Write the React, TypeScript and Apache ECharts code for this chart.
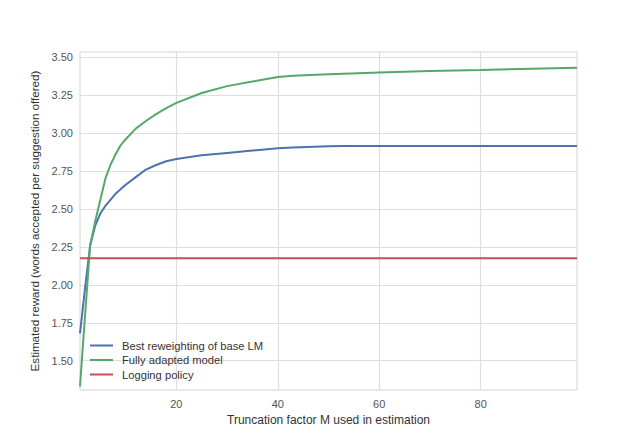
import React, { useEffect, useRef } from "react";
import * as echarts from "echarts";

const mValues = [1, 2, 3, 4, 5, 6, 7, 8, 9, 10, 12, 14, 16, 18, 20, 25, 30, 35, 40, 43, 50, 53, 60, 70, 80, 90, 99];
const bestReweighting = [1.68, 1.98, 2.26, 2.39, 2.47, 2.52, 2.56, 2.60, 2.63, 2.66, 2.71, 2.76, 2.79, 2.815, 2.83, 2.855, 2.87, 2.885, 2.9, 2.905, 2.913, 2.915, 2.915, 2.915, 2.915, 2.915, 2.915];
const fullyAdapted = [1.33, 1.8, 2.26, 2.42, 2.56, 2.7, 2.79, 2.86, 2.92, 2.96, 3.03, 3.08, 3.125, 3.165, 3.2, 3.265, 3.31, 3.34, 3.37, 3.378, 3.388, 3.392, 3.4, 3.41, 3.417, 3.425, 3.432];
const loggingPolicy = 2.175;
const yTicks = [1.5, 1.75, 2.0, 2.25, 2.5, 2.75, 3.0, 3.25, 3.5];
const xTicks = [20, 40, 60, 80];
const seriesNames = ["Best reweighting of base LM", "Fully adapted model", "Logging policy"];

export default function App() {
  const ref = useRef<HTMLDivElement>(null);
  useEffect(() => {
    if (!ref.current) return;
    const chart = echarts.init(ref.current, null, { renderer: "svg" });
    const font = "'Liberation Sans', Arial, sans-serif";
    chart.setOption({
      animation: false,
      backgroundColor: "#ffffff",
      textStyle: { fontFamily: font },
      grid: {
        left: 80,
        right: 65,
        top: 52,
        bottom: 52,
        show: true,
        borderColor: "#d4d4d4",
        borderWidth: 1,
        backgroundColor: "transparent",
      },
      legend: {
        orient: "vertical",
        left: 85,
        top: 335,
        itemWidth: 23,
        itemHeight: 12,
        itemGap: 3.5,
        icon: "path://M0,5 L23,5 L23,7 L0,7 Z",
        textStyle: { fontFamily: font, fontSize: 11.2, color: "#333333", padding: [0, 0, 0, 4] },
        data: seriesNames,
      },
      xAxis: {
        type: "value",
        min: 1,
        max: 99,
        name: "Truncation factor M used in estimation",
        nameLocation: "middle",
        nameGap: 22,
        nameTextStyle: { fontFamily: font, fontSize: 12, color: "#333333" },
        axisLine: { show: false },
        axisTick: { show: false, customValues: xTicks },
        axisLabel: { customValues: xTicks, fontSize: 11, color: "#555555", margin: 8, fontFamily: font },
        splitLine: { show: true, lineStyle: { color: "#dedede", width: 1.2 } },
      },
      yAxis: {
        type: "value",
        min: 1.307,
        max: 3.535,
        name: "Estimated reward (words accepted per suggestion offered)",
        nameLocation: "middle",
        nameGap: 33,
        nameRotate: 90,
        nameTextStyle: { fontFamily: font, fontSize: 11.6, color: "#333333" },
        axisLine: { show: false },
        axisTick: { show: false, customValues: yTicks },
        axisLabel: {
          customValues: yTicks,
          fontSize: 11,
          color: "#555555",
          margin: 7,
          fontFamily: font,
          formatter: (v: number) => v.toFixed(2),
        },
        splitLine: { show: true, lineStyle: { color: "#dedede", width: 1.2 } },
      },
      series: [
        {
          name: seriesNames[0],
          type: "line",
          symbol: "none",
          data: mValues.map((m, i) => [m, bestReweighting[i]]),
          lineStyle: { color: "#4C72B0", width: 2 },
          itemStyle: { color: "#4C72B0" },
        },
        {
          name: seriesNames[1],
          type: "line",
          symbol: "none",
          data: mValues.map((m, i) => [m, fullyAdapted[i]]),
          lineStyle: { color: "#55A868", width: 2 },
          itemStyle: { color: "#55A868" },
        },
        {
          name: seriesNames[2],
          type: "line",
          symbol: "none",
          data: [[1, loggingPolicy], [99, loggingPolicy]],
          lineStyle: { color: "#C44E52", width: 2 },
          itemStyle: { color: "#C44E52" },
        },
      ],
    });
    return () => chart.dispose();
  }, []);
  return <div ref={ref} style={{ position: "fixed", left: 0, top: 0, width: 642, height: 442 }} />;
}
